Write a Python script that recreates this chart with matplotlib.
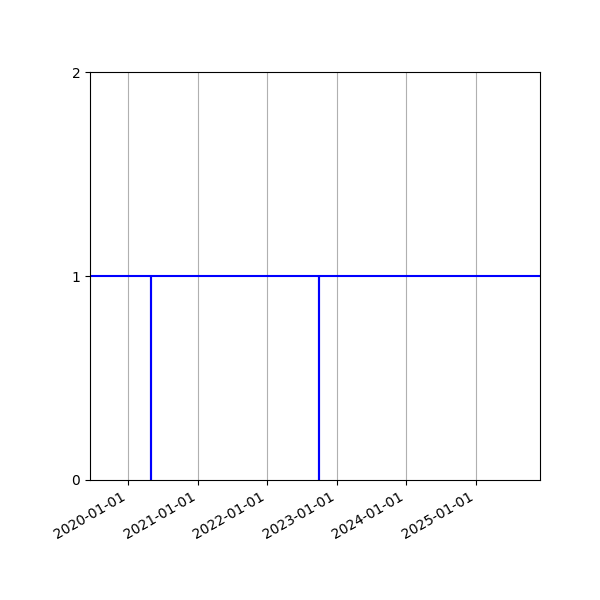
import numpy as np
import pandas as pd
import matplotlib
matplotlib.use("Agg")
import matplotlib.pyplot as plt
import matplotlib.dates as mdates

# Status series: 1 most of the time, dropping to 0 on two single days
dates = pd.to_datetime(['2019-06-15', '2020-05-01', '2020-05-02',
                        '2022-10-01', '2022-10-02', '2025-12-05'])
values = [1, 0, 1, 0, 1, 1]

fig, ax = plt.subplots(figsize=(6, 6), dpi=100)
ax.plot(dates, values, color='blue', linewidth=1.5, drawstyle='steps-post')

ax.set_xlim(dates[0], dates[-1])
ax.set_ylim(0, 2)
ax.set_yticks([0, 1, 2])
ax.xaxis.set_major_locator(mdates.YearLocator())
ax.xaxis.set_major_formatter(mdates.DateFormatter('%Y-%m-%d'))
ax.grid(True, axis='x')

fig.autofmt_xdate()
fig.subplots_adjust(left=0.15, right=0.9, top=0.88, bottom=0.2)
plt.savefig("out.png")
